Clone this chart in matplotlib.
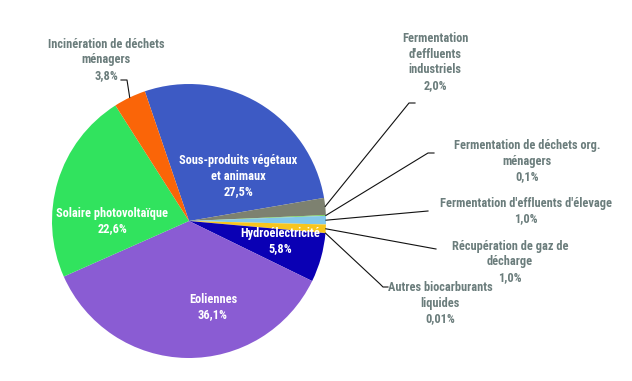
import numpy as np
import matplotlib
matplotlib.use("Agg")
import matplotlib.pyplot as plt
from matplotlib import font_manager

labels = ["Sous-produits végétaux\net animaux", "Fermentation\nd'effluents\nindustriels",
          "Fermentation de déchets org.\nménagers", "Fermentation d'effluents d'élevage",
          "Récupération de gaz de\ndécharge", "Autres biocarburants\nliquides",
          "Hydroélectricité", "Eoliennes", "Solaire photovoltaïque",
          "Incinération de déchets\nménagers"]
values = [27.5, 2.0, 0.1, 1.0, 1.0, 0.01, 5.8, 36.1, 22.6, 3.8]
pct_text = ["27,5%", "2,0%", "0,1%", "1,0%", "1,0%", "0,01%", "5,8%", "36,1%", "22,6%", "3,8%"]
colors = ["#3D5AC4", "#7D8170", "#6CD24A", "#82C8EA", "#F7C51E", "#E0E0E0",
          "#0A00B4", "#8A5CD3", "#31E35E", "#FA6508"]

names = {f.name for f in font_manager.fontManager.ttflist}
fam, fsz, lsp = "Liberation Sans", 7.0, 1.5
for cand in ["Roboto Condensed", "Oswald", "Archivo Narrow"]:
    if cand in names:
        fam, fsz, lsp = cand, 8.9, 1.25
        break
plt.rcParams['font.family'] = [fam, 'DejaVu Sans']

W, H = 632, 381
fig = plt.figure(figsize=(W / 100, H / 100), dpi=100)
ax = fig.add_axes([0, 0, 1, 1])

def P(x, y):
    return (x, H - y)

cx, cy = P(189, 221)
R = 137
wedges, _ = ax.pie(values, colors=colors, startangle=108.8, counterclock=False,
                   center=(cx, cy), radius=R, normalize=True,
                   wedgeprops=dict(linewidth=0))
ax.set_xlim(0, W)
ax.set_ylim(0, H)
ax.set_aspect('equal')
ax.axis('off')

grey = "#6B7D7C"
inside = {0: (238, 176), 6: (280, 241), 7: (213, 307), 8: (112, 221)}
for i, (x, y) in inside.items():
    ax.text(*P(x, y), labels[i] + "\n" + pct_text[i], ha='center', va='center',
            color='white', fontsize=fsz, fontweight='bold', linespacing=lsp)

outside = {
    9: ((106, 60), [(127, 80), (121, 80)]),
    1: ((435, 62), [(409, 103), (415, 103)]),
    2: ((527, 161), [(428, 153), (434, 153)]),
    3: ((526, 211), [(428, 211)]),
    4: ((510, 262), [(436, 249)]),
    5: ((440, 303), [(380, 284), (383, 287), (388, 287)]),
}
for i, ((x, y), pts) in outside.items():
    ax.text(*P(x, y), labels[i] + "\n" + pct_text[i], ha='center', va='center',
            color=grey, fontsize=fsz, fontweight='bold', linespacing=lsp)
    w = wedges[i]
    ang = np.deg2rad((w.theta1 + w.theta2) / 2)
    ex, ey = cx + R * np.cos(ang), cy + R * np.sin(ang)
    xs = [ex] + [P(*p)[0] for p in pts]
    ys = [ey] + [P(*p)[1] for p in pts]
    ax.plot(xs, ys, color='#111111', lw=0.8)

fig.savefig("out.png", dpi=100)
